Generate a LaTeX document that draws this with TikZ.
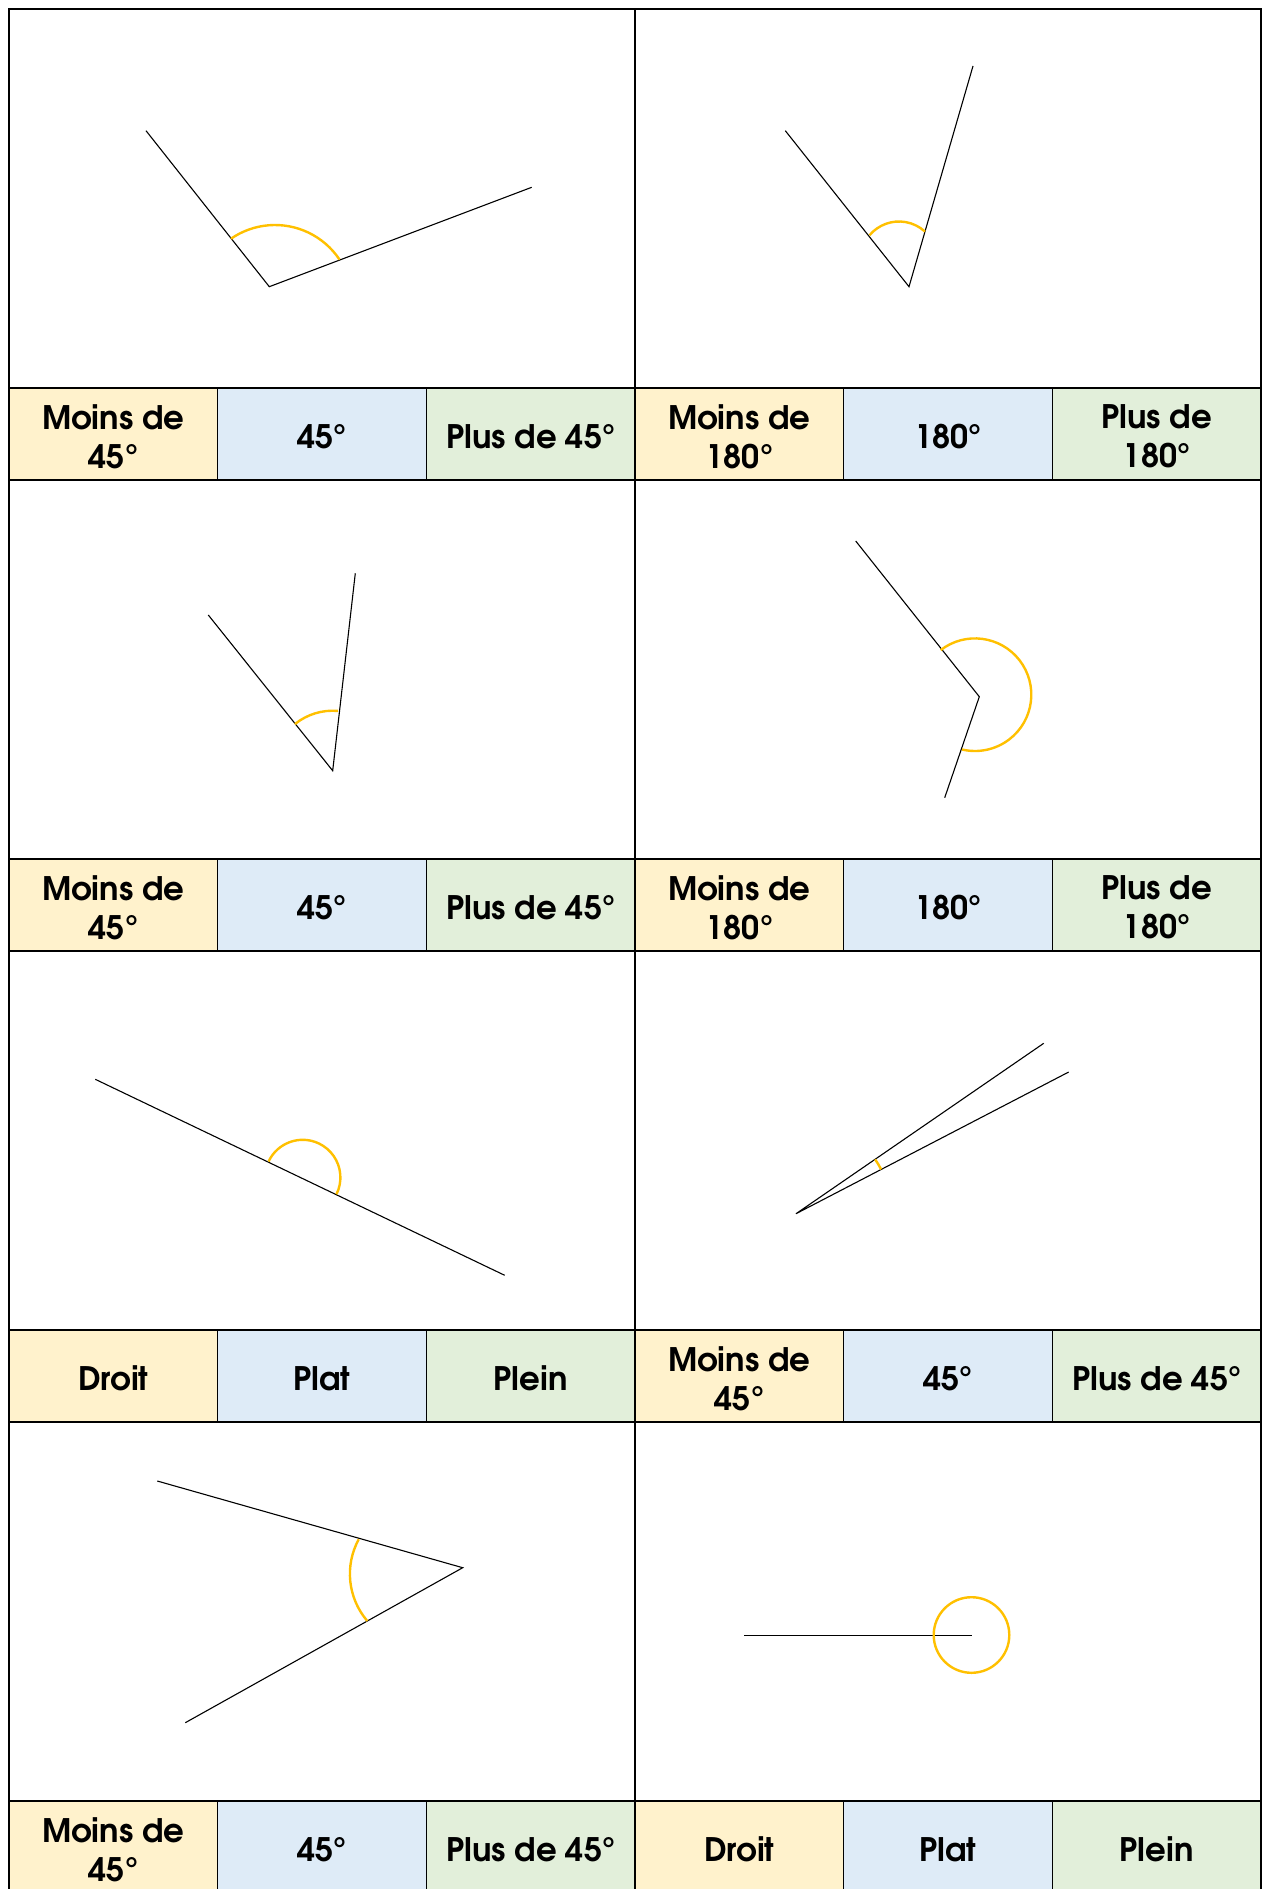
\documentclass[tikz,border=0pt]{standalone}
\usepackage{fontspec}
\setmainfont{texgyreadventor}[Extension=.otf, UprightFont=*-bold, BoldFont=*-bold]
\usepackage{tikz}
\usetikzlibrary{arrows, positioning}
\definecolor{moins}{HTML}{FFF2CC}
\definecolor{egal}{HTML}{DEEBF7}
\definecolor{plus}{HTML}{E2EFDA}
\definecolor{arcor}{HTML}{FFC000}
\tikzset{>=stealth}
\tikzset{
  cell/.style={draw, line width=0.75pt, minimum width=104.35pt, minimum height=46pt,
    inner sep=0pt},
  lab/.style={inner sep=0pt, align=center, yshift=-1.2pt, font=\fontsize{16.2}{19.4}\selectfont},
  ray/.style={line width=0.55pt},
  angarc/.style={draw=arcor, line width=1.2pt}
}

\begin{document}
\begin{tikzpicture}[x=0.5pt, y=-0.5pt]
            \useasboundingbox (0,0) rectangle (1262,1889);
            % cadre
            \draw[line width=0.75pt] (9,1889) -- (9,9) -- (1261,9) -- (1261,1889);
            \draw[line width=0.75pt] (635,9) -- (635,1889);
            % etiquettes
            \foreach \r/\ta/\tb/\tc/\td/\te/\tf in {
              0/{Moins de\\45°}/45°/{Plus de 45°}/{Moins de\\180°}/180°/{Plus de\\180°},
              1/{Moins de\\45°}/45°/{Plus de 45°}/{Moins de\\180°}/180°/{Plus de\\180°},
              2/Droit/Plat/Plein/{Moins de\\45°}/45°/{Plus de 45°},
              3/{Moins de\\45°}/45°/{Plus de 45°}/Droit/Plat/Plein}{
              \node[cell, fill=moins, label={[lab]center:\ta}] (a\r) at (113.35,434+471*\r) {};
              \node[cell, fill=egal, label={[lab]center:\tb}] (b\r) at (322,434+471*\r) {};
              \node[cell, fill=plus, label={[lab]center:\tc}] (c\r) at (530.65,434+471*\r) {};
              \node[cell, fill=moins, label={[lab]center:\td}] (d\r) at (739.35,434+471*\r) {};
              \node[cell, fill=egal, label={[lab]center:\te}] (e\r) at (948,434+471*\r) {};
              \node[cell, fill=plus, label={[lab]center:\tf}] (f\r) at (1156.65,434+471*\r) {};
            }
            % angle 1
            \coordinate (s1) at (146,130.7);
            \coordinate (v1) at (269.3,286.7);
            \coordinate (e1) at (531.7,187.3);
            \draw[ray] (s1) -- (v1) -- (e1);
            \draw[angarc] (275,302.5) ++(-124.6:77.5) arc[start angle=-124.6, end angle=-33.6, radius=77.5];
            % angle 2
            \coordinate (s2) at (785.3,130.7);
            \coordinate (v2) at (909,286.7);
            \coordinate (e2) at (973,66);
            \draw[ray] (s2) -- (v2) -- (e2);
            \draw[angarc] (899,260) ++(-140:38.5) arc[start angle=-140, end angle=-47.6, radius=38.5];
            % angle 3
            \coordinate (s3) at (208.3,615);
            \coordinate (v3) at (332.7,770.7);
            \coordinate (e3) at (355.3,573.3);
            \draw[ray] (s3) -- (v3) -- (e3);
            \draw[angarc] (v3) ++(-129:60) arc[start angle=-129, end angle=-85, radius=60];
            % angle 4
            \coordinate (s4) at (855.7,541);
            \coordinate (v4) at (979.3,696.7);
            \coordinate (e4) at (944.7,797.7);
            \draw[ray] (s4) -- (v4) -- (e4);
            \draw[angarc] (975,694.7) ++(-127.6:56.3) arc[start angle=-127.6, end angle=103.4, radius=56.3];
            % angle 5
            \coordinate (s5) at (95.3,1079.3);
            \coordinate (e5) at (504.7,1275.3);
            \draw[ray] (s5) -- (e5);
            \draw[angarc] (302.7,1177.5) ++(-154.8:37.7) arc[start angle=-154.8, end angle=26.3, radius=37.7];
            % angle 6
            \coordinate (s6) at (1043.7,1043.3);
            \coordinate (v6) at (796,1213.7);
            \coordinate (e6) at (1068.7,1072);
            \draw[ray] (s6) -- (v6) -- (e6);
            \draw[angarc] (v6) ++(-34.5:96) arc[start angle=-34.5, end angle=-27.5, radius=96];
            % angle 7
            \coordinate (s7) at (157.3,1481);
            \coordinate (v7) at (462.7,1567.7);
            \coordinate (e7) at (185.3,1722.7);
            \draw[ray] (s7) -- (v7) -- (e7);
            \draw[angarc] (422.2,1573.9) ++(208.6:72.3) arc[start angle=208.6, end angle=139.4, radius=72.3];
            % angle 8
            \coordinate (s8) at (744.3,1635.3);
            \coordinate (e8) at (971.7,1635.3);
            \draw[ray] (s8) -- (e8);
            \draw[angarc] (971.5,1635) circle[radius=37.8];
\end{tikzpicture}
\end{document}
